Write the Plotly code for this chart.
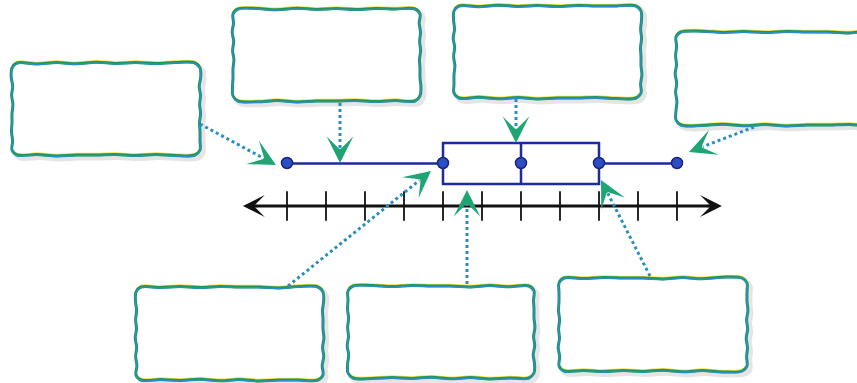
import plotly.graph_objects as go

# ---------------- data ----------------
tick_values = [0, 1, 2, 3, 4, 5, 6, 7, 8, 9, 10]
stat_names = ["Minimum", "Lower quartile", "Median", "Upper quartile", "Maximum"]
stat_values = [0, 4, 6, 8, 10]
line_min = -1.13
line_max = 11.15

# ---------------- layout constants (pixels) ----------------
W, H = 857, 383
PX0, PXU = 287.0, 39.0          # pixel of value 0, pixels per unit
xr = [-PX0 / PXU, (W - PX0) / PXU]

BOX_Y = 163.5
BOX_H = 41
AXIS_Y = 206

label_boxes = [
    (12, 63, 200, 155),
    (233, 9, 420, 101),
    (454, 6, 641, 98),
    (676, 32, 875, 125),
    (136, 287, 323, 380),
    (348, 286, 534, 378),
    (559, 278, 747, 371),
]
pointers = [
    ((200, 124), (276, 165)),
    ((340, 103), (340, 163)),
    ((516, 99), (516, 143)),
    ((754, 127), (689, 152)),
    ((288, 286), (431, 171)),
    ((467, 284), (467, 190)),
    ((650, 276), (601, 180)),
]

wobble = [0.0, 0.9, -0.4, 0.7, -0.8, 0.5, -0.4, 0.6, -0.5, 0.0]

fig = go.Figure()


def wavy_outline(x0, y0, x1, y1, shift):
    r = 5
    xs, ys = [], []
    n = len(wobble)

    def edge(ax, ay, bx, by, nx, ny, k):
        for i in range(n):
            t = i / (n - 1)
            w = wobble[(i + k) % n] if 0 < i < n - 1 else 0.0
            xs.append(ax + (bx - ax) * t + nx * w)
            ys.append(ay + (by - ay) * t + ny * w)

    edge(x0 + r, y0, x1 - r, y0, 0, 1, shift)
    edge(x1, y0 + r, x1, y1 - r, 1, 0, shift + 2)
    edge(x1 - r, y1, x0 + r, y1, 0, 1, shift + 4)
    edge(x0, y1 - r, x0, y0 + r, 1, 0, shift + 6)
    xs.append(xs[0])
    ys.append(ys[0])
    return xs, ys


for k, (x0, y0, x1, y1) in enumerate(label_boxes):
    xs, ys = wavy_outline(x0, y0, x1, y1, k)
    # soft shadow
    fig.add_trace(go.Scatter(x=[v + 3 for v in xs], y=[v + 3 for v in ys], xaxis="x2", yaxis="y",
                             mode="lines", line=dict(color="rgba(170,170,170,0.3)", width=5, shape="spline"),
                             hoverinfo="skip", showlegend=False))
    fig.add_trace(go.Scatter(x=xs, y=ys, xaxis="x2", yaxis="y", mode="lines",
                             line=dict(color="#ffffff", width=1, shape="spline"),
                             fill="toself", fillcolor="#ffffff", hoverinfo="skip", showlegend=False))
    fig.add_trace(go.Scatter(x=xs, y=[v - 1.5 for v in ys], xaxis="x2", yaxis="y", mode="lines",
                             line=dict(color="#efe24a", width=1.5, shape="spline"),
                             hoverinfo="skip", showlegend=False))
    fig.add_trace(go.Scatter(x=xs, y=ys, xaxis="x2", yaxis="y", mode="lines",
                             line=dict(color="#22945a", width=3, shape="spline"),
                             hoverinfo="skip", showlegend=False))
    fig.add_trace(go.Scatter(x=xs, y=[v + 0.6 for v in ys], xaxis="x2", yaxis="y", mode="lines",
                             line=dict(color="#2a8fd0", width=1.3, shape="spline"),
                             hoverinfo="skip", showlegend=False))

# ---------------- number line ----------------
fig.add_trace(go.Scatter(x=[line_min + 0.3, line_max - 0.3], y=[AXIS_Y, AXIS_Y], mode="lines",
                         line=dict(color="#111111", width=2.8), hoverinfo="skip", showlegend=False))
fig.add_trace(go.Scatter(x=tick_values, y=[AXIS_Y] * len(tick_values), mode="markers",
                         marker=dict(symbol="line-ns", size=21, line=dict(color="#111111", width=1.8)),
                         hoverinfo="skip", showlegend=False))

# ---------------- box plot ----------------
fig.add_trace(go.Box(orientation="h", y=[BOX_Y], lowerfence=[stat_values[0]], q1=[stat_values[1]],
                     median=[stat_values[2]], q3=[stat_values[3]], upperfence=[stat_values[4]],
                     width=BOX_H, whiskerwidth=0, boxpoints=False,
                     line=dict(color="#1f2a9c", width=2.5), fillcolor="rgba(255,255,255,0)",
                     showlegend=False))
fig.add_trace(go.Scatter(x=stat_values, y=[BOX_Y - 0.5] * len(stat_values), mode="markers",
                         text=stat_names, hoverinfo="text",
                         marker=dict(size=11, color="#2b4fc2", line=dict(color="#1a237e", width=1.5)),
                         showlegend=False))

annotations = []
# number-line arrow heads
annotations.append(dict(x=line_min, y=AXIS_Y, xref="x", yref="y", ax=16, ay=0, text="",
                        showarrow=True, arrowhead=3, arrowsize=1.4, arrowwidth=2.6, arrowcolor="#111111"))
annotations.append(dict(x=line_max, y=AXIS_Y, xref="x", yref="y", ax=-16, ay=0, text="",
                        showarrow=True, arrowhead=3, arrowsize=1.4, arrowwidth=2.6, arrowcolor="#111111"))

# dotted pointers
for (sx, sy), (tx, ty) in pointers:
    dx, dy = tx - sx, ty - sy
    L = (dx * dx + dy * dy) ** 0.5
    bx, by = tx - dx / L * 15, ty - dy / L * 15
    fig.add_trace(go.Scatter(x=[sx, bx], y=[sy, by], xaxis="x2", yaxis="y", mode="lines",
                             line=dict(color="#2a8fc0", width=3, dash="dot"),
                             hoverinfo="skip", showlegend=False))
    annotations.append(dict(x=tx, y=ty, xref="x2", yref="y", ax=bx, ay=by, axref="x2", ayref="y",
                            text="", showarrow=True, arrowhead=3, arrowsize=1.7, arrowwidth=2.6,
                            arrowcolor="#1fa574"))

fig.update_layout(
    width=W, height=H,
    margin=dict(l=0, r=0, t=0, b=0),
    paper_bgcolor="#ffffff", plot_bgcolor="#ffffff",
    xaxis=dict(range=xr, visible=False, fixedrange=True),
    xaxis2=dict(range=[0, W], visible=False, overlaying="x", anchor="y", fixedrange=True),
    yaxis=dict(range=[H, 0], visible=False, fixedrange=True),
    annotations=annotations,
    showlegend=False,
)

fig.write_html("out.html", config={"displayModeBar": False},
               post_script="document.body.style.margin='0';document.body.style.overflow='hidden';")
